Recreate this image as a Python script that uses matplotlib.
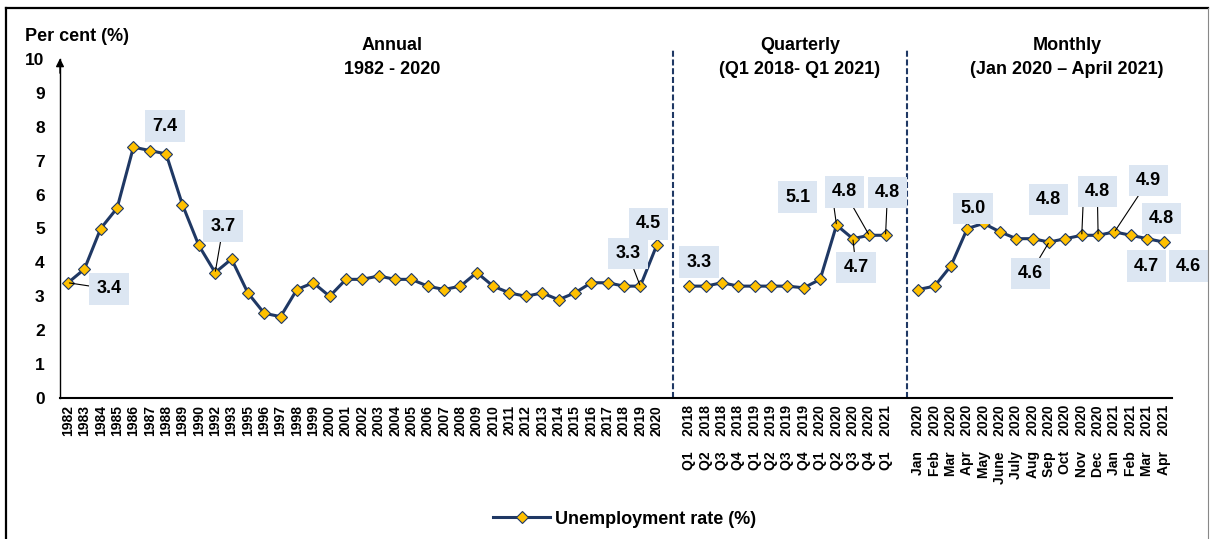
import numpy as np
import matplotlib.pyplot as plt
from matplotlib.lines import Line2D

plt.rcParams['font.family'] = ['Liberation Sans', 'DejaVu Sans']
plt.rcParams['font.weight'] = 'bold'

# ==================== data
annual_labels = ['1982', '1983', '1984', '1985', '1986', '1987', '1988', '1989', '1990',
                 '1992', '1993', '1995', '1996', '1997', '1998', '1999', '2000', '2001',
                 '2002', '2003', '2004', '2005', '2006', '2007', '2008', '2009', '2010',
                 '2011', '2012', '2013', '2014', '2015', '2016', '2017', '2018', '2019', '2020']
annual_values = [3.4, 3.8, 5.0, 5.6, 7.4, 7.3, 7.2, 5.7, 4.5,
                 3.7, 4.1, 3.1, 2.5, 2.4, 3.2, 3.4, 3.0, 3.5,
                 3.5, 3.6, 3.5, 3.5, 3.3, 3.2, 3.3, 3.7, 3.3,
                 3.1, 3.0, 3.1, 2.9, 3.1, 3.4, 3.4, 3.3, 3.3, 4.5]

quarter_labels = ['Q1 2018', 'Q2 2018', 'Q3 2018', 'Q4 2018', 'Q1 2019', 'Q2 2019', 'Q3 2019',
                  'Q4 2019', 'Q1 2020', 'Q2 2020', 'Q3 2020', 'Q4 2020', 'Q1 2021']
quarter_values = [3.3, 3.3, 3.4, 3.3, 3.3, 3.3, 3.3, 3.25, 3.5, 5.1, 4.7, 4.8, 4.8]

month_labels = ['Jan 2020', 'Feb 2020', 'Mar 2020', 'Apr 2020', 'May 2020', 'June 2020',
                'July 2020', 'Aug 2020', 'Sep 2020', 'Oct 2020', 'Nov 2020', 'Dec 2020',
                'Jan 2021', 'Feb 2021', 'Mar 2021', 'Apr 2021']
month_values = [3.2, 3.3, 3.9, 5.0, 5.15, 4.9, 4.7, 4.7, 4.6, 4.7, 4.8, 4.8, 4.9, 4.8, 4.7, 4.6]

navy = '#1F3864'
gold = '#FFC000'
boxc = '#DCE6F2'

# one category axis, a blank slot between the sections
n_a, n_q = len(annual_labels), len(quarter_labels)
x_a = np.arange(n_a)
x_q = np.arange(n_q) + n_a + 1
x_m = np.arange(len(month_labels)) + n_a + n_q + 2

fig, ax = plt.subplots(figsize=(12.1, 5.39), dpi=100)
fig.subplots_adjust(left=60/1210, right=1171.7/1210, bottom=141/539, top=480/539)

style = dict(color=navy, lw=2.2, marker='D', ms=6.5, mfc=gold, mec=navy, mew=0.8)
ax.plot(x_a, annual_values, **style, label='Unemployment rate (%)')
ax.plot(x_q, quarter_values, **style)
ax.plot(x_m, month_values, **style)

ax.set_xlim(-0.49, x_m[-1] + 0.5)
ax.set_ylim(0, 10)
ax.set_yticks(range(0, 11))
ax.set_xticks(np.concatenate([x_a, x_q, x_m]))
# Excel 的分类标签在两段之间留有较宽的空隙
wide = [s.replace(' ', '    ') for s in quarter_labels + month_labels]
ax.set_xticklabels(annual_labels + wide, rotation=90)
ax.tick_params(axis='x', length=0, pad=5, labelsize=10)
ax.tick_params(axis='y', length=0, pad=11, labelsize=12.5)

for s in ['top', 'right']:
    ax.spines[s].set_visible(False)
ax.spines['left'].set_color('black')
ax.spines['left'].set_linewidth(1)
ax.spines['bottom'].set_color('black')
ax.spines['bottom'].set_linewidth(1.5)

# 纵轴箭头
ax.annotate('', xy=(0, 1.01), xytext=(0, 0.95), xycoords='axes fraction',
            arrowprops=dict(arrowstyle='-|>', color='black', lw=1, mutation_scale=12))

# section separators
ax.vlines([n_a, n_a + n_q + 1.3], 0, 10.32, colors=navy, lw=1.5,
          linestyles=(0, (2.9, 1.3)), clip_on=False)

# section titles
tr = ax.get_xaxis_transform()
titles = [((392 - 68) / 16.35, 'Annual', '1982 - 2020'),
          ((800 - 68) / 16.35, 'Quarterly', '(Q1 2018- Q1 2021)'),
          ((1067 - 68) / 16.35, 'Monthly', '(Jan 2020 \u2013 April 2021)')]
for xc, t1, t2 in titles:
    ax.text(xc, (398 - 45) / 339, t1, transform=tr, ha='center', va='center', fontsize=13)
    ax.text(xc, (398 - 70) / 339, t2, transform=tr, ha='center', va='center', fontsize=13)

fig.text(25 / 1210, 1 - 36 / 539, 'Per cent (%)', ha='left', va='center', fontsize=13)

# ==================== data labels
def label(xs, ys, i, dx, dy, leader):
    ax.annotate(f'{ys[i]:.1f}', xy=(xs[i], ys[i]), xytext=(dx, dy), textcoords='offset points',
                ha='center', va='center', fontsize=13, annotation_clip=False, zorder=5,
                bbox=dict(boxstyle='square,pad=0.4', fc=boxc, ec='none'),
                arrowprops=dict(arrowstyle='-', color='black', lw=0.8, shrinkA=0, shrinkB=1)
                if leader else None)

def leader_only(xs, ys, i, dx, dy):
    ax.annotate('', xy=(xs[i], ys[i]), xytext=(dx, dy), textcoords='offset points',
                annotation_clip=False, zorder=4,
                arrowprops=dict(arrowstyle='-', color='black', lw=0.8, shrinkA=0, shrinkB=1))

label(x_a, annual_values, 0, 29.5, -4.5, True)
label(x_a, annual_values, 4, 22.8, 15.1, False)
label(x_a, annual_values, 9, 5.8, 33.5, True)
label(x_a, annual_values, 35, -9, 23.4, True)
label(x_a, annual_values, 36, -5.8, 15.5, False)

label(x_q, quarter_values, 0, 6.8, 17.3, False)
label(x_q, quarter_values, 9, -28, 20.2, False)
leader_only(x_q, quarter_values, 9, -1.8, 13)
label(x_q, quarter_values, 11, -17.8, 31.2, True)
label(x_q, quarter_values, 12, 1.4, 30.8, True)
label(x_q, quarter_values, 10, 2.3, -20.7, True)

label(x_m, month_values, 3, 4.2, 14.4, False)
label(x_m, month_values, 10, -24.1, 25.8, False)
leader_only(x_m, month_values, 10, 0.9, 21.1)
label(x_m, month_values, 11, -0.6, 31.5, True)
label(x_m, month_values, 12, 24.5, 37, True)
label(x_m, month_values, 13, 22, 12.1, False)
label(x_m, month_values, 8, -13.5, -22.6, True)
label(x_m, month_values, 14, -0.6, -19.7, False)
label(x_m, month_values, 15, 18, -17.3, False)

ax.legend(loc='center', bbox_to_anchor=(0.516, 0.037), bbox_transform=fig.transFigure,
          frameon=False, fontsize=13, handlelength=3.2, handletextpad=0.25)

# chart border
fig.add_artist(Line2D([6/1210, 6/1210], [0, 1 - 8/539], color='black', lw=1.6))
fig.add_artist(Line2D([6/1210, 1208/1210], [1 - 8/539, 1 - 8/539], color='black', lw=1.6))
fig.add_artist(Line2D([1208/1210, 1208/1210], [0, 1 - 8/539], color='#888888', lw=0.8))

plt.savefig('out.png', dpi=100)
